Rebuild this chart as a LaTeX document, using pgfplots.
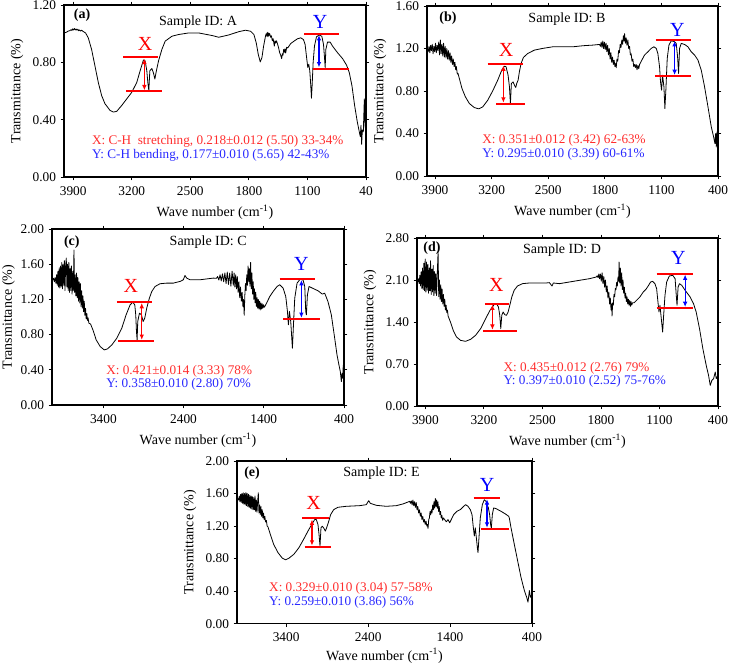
\documentclass[border=0pt]{standalone}
\usepackage{fontspec}
\setmainfont{Liberation Serif}
\usepackage{pgfplots}
\pgfplotsset{compat=1.18}
\usetikzlibrary{arrows.meta}
\definecolor{annred}{RGB}{255,45,45}
\definecolor{annblue}{RGB}{40,40,255}
\pgfplotsset{
  ftir/.style={
    scale only axis,
    x dir=reverse,
    xmin=400,
    ymin=0,
    axis line style={line width=0.9pt},
    tick align=outside,
    major tick length=2.5pt,
    tick style={black, line width=0.6pt},
    tick label style={font=\fontsize{10}{11}\selectfont},
    x tick label style={yshift=-1pt},
    label style={font=\fontsize{10.5}{12}\selectfont},
    /pgf/number format/assume math mode=true,
    y tick label style={/pgf/number format/fixed, /pgf/number format/fixed zerofill, /pgf/number format/precision=2},
    xlabel={Wave number (cm\textsuperscript{-1})},
    ylabel={Transmittance (\%)},
    xlabel style={yshift=-0.5pt},
    clip=false,
    anchor=south west,
  },
  spec/.style={black, mark=none, line width=0.6pt, line join=round},
}
\newcommand{\hl}[3]{\draw[red, line width=1.5pt] (axis cs:#1,#3) -- (axis cs:#2,#3);}
\newcommand{\arr}[4]{\draw[draw=#1, fill=#1, line width=0.9pt, {Latex[length=4pt,width=3.5pt]}-{Latex[length=4pt,width=3.5pt]}] (axis cs:#2,#3) -- (axis cs:#2,#4);}
\newcommand{\panel}[2]{\node[font=\bfseries\fontsize{10.5}{12}\selectfont] at (rel axis cs:#1) {#2};}
\newcommand{\sid}[2]{\node[font=\fontsize{10.5}{12}\selectfont] at (rel axis cs:#1) {#2};}
\newcommand{\biglab}[4]{\node[#1, font=\fontsize{15}{16}\selectfont] at (axis cs:#2,#3) {#4};}
\newcommand{\ann}[4]{\node[anchor=west, text=#1, font=\fontsize{9.9}{11}\selectfont, inner sep=0pt] at (axis cs:#2,#3) {#4};}
\begin{document}
\begin{tikzpicture}
\path[use as bounding box] (0,0) rectangle (546.75pt,498.75pt);

% (a)
\begin{axis}[ftir, at={(48pt,366pt)}, width=226.5pt, height=129pt,
  xmax=4010, ymax=1.2, ytick={0,0.4,0.8,1.2},
  xtick={3900,3200,2500,1800,1100,400}, xticklabels={3900,3200,2500,1800,1100,40}]
\addplot[spec] coordinates {
(4008,1.005)(3990,1.008)(3975,1.012)(3960,1.018)(3940,1.021)(3925,1.028)(3915,1.022)(3905,1.034)(3895,1.025)(3885,1.036)(3875,1.026)(3865,1.033)(3855,1.024)(3845,1.031)(3835,1.020)(3825,1.026)(3812,1.018)(3800,1.024)(3780,1.015)(3752,1.005)(3720,0.971)(3680,0.890)(3640,0.775)(3600,0.660)(3560,0.568)(3520,0.511)(3460,0.465)(3420,0.453)(3380,0.458)(3320,0.499)(3260,0.545)(3200,0.591)(3140,0.660)(3100,0.741)(3060,0.817)(3040,0.810)(3020,0.741)(3008,0.660)(2996,0.603)(2984,0.741)(2960,0.757)(2940,0.725)(2924,0.683)(2908,0.734)(2880,0.810)(2840,0.890)(2800,0.948)(2720,0.982)(2640,0.994)(2520,1.005)(2400,1.005)(2240,0.987)(2160,0.975)(2040,0.991)(1920,1.014)(1840,1.024)(1780,1.017)(1740,0.994)(1712,0.936)(1688,0.856)(1664,0.803)(1644,0.833)(1624,0.913)(1600,0.987)(1592,1.000)(1586,0.982)(1580,1.010)(1572,0.978)(1566,1.005)(1560,0.985)(1552,1.002)(1540,0.975)(1530,0.985)(1520,0.950)(1510,0.965)(1496,0.913)(1488,0.950)(1480,0.935)(1470,0.950)(1456,0.925)(1444,0.900)(1432,0.867)(1420,0.850)(1408,0.826)(1400,0.860)(1392,0.850)(1384,0.890)(1376,0.870)(1368,0.895)(1360,0.865)(1348,0.905)(1336,0.900)(1300,0.931)(1260,0.948)(1220,0.964)(1180,0.971)(1148,0.959)(1128,0.925)(1112,0.844)(1096,0.764)(1084,0.787)(1072,0.741)(1060,0.637)(1052,0.550)(1044,0.637)(1032,0.798)(1016,0.913)(992,0.978)(960,0.991)(928,0.982)(908,0.925)(896,0.833)(888,0.764)(880,0.890)(860,0.941)(828,0.941)(800,0.913)(740,0.867)(680,0.826)(632,0.780)(600,0.729)(568,0.637)(536,0.499)(504,0.384)(480,0.315)(468,0.281)(460,0.361)(452,0.228)(444,0.327)(432,0.315)(420,0.545)(412,0.361)(404,0.327)
};
\hl{3300}{2882}{0.835}
\hl{3268}{2841}{0.600}
\arr{red}{3049}{0.825}{0.605}
\biglab{red}{3040}{0.93}{X}
\hl{1141}{723}{0.996}
\hl{1030}{600}{0.756}
\arr{blue}{962}{0.99}{0.765}
\biglab{blue}{950}{1.08}{Y}
\panel{0.06,0.94}{(a)}
\sid{0.444,0.90}{Sample ID: A}
\ann{annred}{3678}{0.246}{X: C-H\ \ stretching, 0.218±0.012 (5.50) 33-34\%}
\ann{annblue}{3678}{0.153}{Y: C-H bending, 0.177±0.010 (5.65) 42-43\%}
\end{axis}

% (b)
\begin{axis}[ftir, at={(320.25pt,366.75pt)}, width=218.25pt, height=127.5pt,
  xmax=4000, ymax=1.6, ytick={0,0.4,0.8,1.2,1.6},
  xtick={3900,3200,2500,1800,1100,400}, xticklabels={3900,3200,2500,1800,1100,400}]
\addplot[spec] coordinates {
(3995,1.20)(3985,1.17)(3975,1.22)(3965,1.16)(3955,1.23)(3945,1.18)(3935,1.24)(3925,1.15)(3915,1.22)(3905,1.17)(3895,1.25)(3885,1.16)(3875,1.23)(3865,1.18)(3855,1.26)(3845,1.14)(3835,1.28)(3825,1.15)(3815,1.24)(3805,1.13)(3795,1.25)(3785,1.12)(3775,1.22)(3765,1.11)(3755,1.20)(3745,1.10)(3735,1.18)(3725,1.09)(3715,1.16)(3705,1.07)(3695,1.13)(3685,1.05)(3675,1.10)(3665,1.03)(3655,1.07)(3645,1.00)(3637,1.03)(3625,0.96)(3616,0.965)(3600,0.918)(3567,0.823)(3525,0.745)(3476,0.682)(3414,0.644)(3360,0.632)(3311,0.650)(3249,0.713)(3187,0.801)(3125,0.902)(3075,0.996)(3042,1.034)(3022,1.028)(2997,0.949)(2980,0.839)(2968,0.682)(2956,0.871)(2935,0.886)(2918,0.855)(2902,0.833)(2890,0.871)(2873,0.902)(2857,0.981)(2836,1.059)(2807,1.116)(2754,1.153)(2671,1.185)(2568,1.201)(2444,1.216)(2320,1.216)(2196,1.216)(2072,1.226)(1948,1.232)(1866,1.238)(1855,1.22)(1845,1.26)(1835,1.21)(1825,1.27)(1815,1.20)(1805,1.26)(1795,1.19)(1785,1.25)(1775,1.17)(1765,1.23)(1755,1.14)(1745,1.20)(1735,1.10)(1725,1.16)(1715,1.07)(1705,1.12)(1695,1.05)(1685,1.09)(1675,1.03)(1665,1.06)(1659,1.02)(1650,1.10)(1640,1.08)(1630,1.18)(1620,1.16)(1610,1.24)(1600,1.21)(1590,1.28)(1580,1.24)(1570,1.32)(1560,1.27)(1556,1.34)(1545,1.25)(1536,1.30)(1526,1.23)(1515,1.28)(1505,1.20)(1494,1.22)(1484,1.14)(1474,1.15)(1464,1.08)(1453,1.10)(1443,1.03)(1432,1.05)(1422,1.02)(1412,1.05)(1402,1.00)(1391,1.04)(1380,1.01)(1370,1.05)(1342,1.091)(1309,1.138)(1267,1.169)(1226,1.201)(1193,1.216)(1164,1.201)(1144,1.153)(1123,1.028)(1111,0.886)(1098,0.808)(1086,0.949)(1069,0.839)(1057,0.635)(1045,0.808)(1028,1.106)(1007,1.232)(978,1.273)(937,1.264)(917,1.248)(900,1.122)(888,0.965)(875,1.201)(855,1.248)(813,1.238)(772,1.216)(731,1.169)(689,1.138)(648,1.091)(607,0.996)(566,0.839)(524,0.651)(483,0.462)(454,0.368)(438,0.305)(429,0.399)(421,0.273)(413,0.415)(400,0.368)
};
\hl{3249}{2815}{1.050}
\hl{3145}{2786}{0.682}
\arr{red}{3055}{1.04}{0.69}
\biglab{red}{3022}{1.19}{X}
\hl{1172}{731}{1.279}
\hl{1176}{739}{0.943}
\arr{blue}{937}{1.27}{0.95}
\biglab{blue}{904}{1.37}{Y}
\panel{0.072,0.93}{(b)}
\sid{0.481,0.924}{Sample ID: B}
\ann{annred}{3319}{0.336}{X: 0.351±0.012 (3.42) 62-63\%}
\ann{annblue}{3319}{0.201}{Y: 0.295±0.010 (3.39) 60-61\%}
\end{axis}

% (c)
\begin{axis}[ftir, at={(39pt,195pt)}, width=219pt, height=132pt,
  xmax=4040, ymax=2.0, ytick={0,0.4,0.8,1.2,1.6,2.0},
  ylabel shift=-2.5pt,
  xtick={3400,2400,1400,400}, xticklabels={3400,2400,1400,400}]
\addplot[spec] coordinates {
(4030,1.42)(4020,1.44)(4010,1.40)(4000,1.45)(3990,1.38)(3982,1.48)(3974,1.36)(3966,1.52)(3958,1.34)(3950,1.56)(3942,1.33)(3934,1.58)(3926,1.35)(3918,1.62)(3910,1.32)(3902,1.60)(3894,1.36)(3886,1.64)(3878,1.30)(3870,1.58)(3862,1.67)(3854,1.34)(3846,1.60)(3838,1.30)(3830,1.62)(3822,1.28)(3814,1.55)(3806,1.30)(3798,1.58)(3790,1.26)(3782,1.52)(3774,1.30)(3766,1.76)(3758,1.28)(3750,1.48)(3742,1.24)(3734,1.50)(3726,1.22)(3718,1.45)(3710,1.18)(3702,1.40)(3694,1.16)(3686,1.38)(3678,1.12)(3670,1.30)(3662,1.10)(3654,1.24)(3646,1.06)(3638,1.18)(3630,1.02)(3622,1.10)(3614,0.98)(3606,1.04)(3598,0.96)(3590,0.99)(3580,0.93)(3559,0.92)(3530,0.854)(3489,0.740)(3439,0.664)(3389,0.626)(3348,0.638)(3294,0.683)(3232,0.759)(3170,0.873)(3116,1.025)(3066,1.138)(3033,1.169)(3008,1.138)(2996,1.025)(2987,0.835)(2979,0.740)(2971,0.949)(2950,1.044)(2925,1.025)(2904,0.949)(2884,0.987)(2859,1.101)(2826,1.214)(2796,1.290)(2755,1.347)(2693,1.378)(2610,1.385)(2527,1.385)(2444,1.404)(2403,1.423)(2382,1.472)(2361,1.442)(2320,1.423)(2195,1.423)(2030,1.442)(1990,1.44)(1975,1.46)(1960,1.42)(1945,1.48)(1930,1.41)(1915,1.49)(1900,1.40)(1885,1.50)(1870,1.38)(1855,1.51)(1840,1.37)(1825,1.50)(1810,1.35)(1795,1.52)(1780,1.36)(1770,1.50)(1760,1.34)(1750,1.48)(1740,1.32)(1730,1.46)(1720,1.28)(1710,1.40)(1700,1.22)(1690,1.34)(1680,1.18)(1670,1.28)(1660,1.12)(1652,1.20)(1644,1.02)(1636,1.25)(1628,1.38)(1620,1.30)(1612,1.48)(1604,1.36)(1596,1.58)(1588,1.40)(1580,1.55)(1572,1.35)(1564,1.62)(1556,1.32)(1548,1.50)(1540,1.26)(1532,1.40)(1524,1.20)(1516,1.32)(1508,1.16)(1500,1.28)(1492,1.12)(1484,1.22)(1476,1.10)(1468,1.20)(1460,1.09)(1452,1.18)(1444,1.08)(1436,1.16)(1428,1.09)(1420,1.15)(1412,1.10)(1404,1.14)(1395,1.11)(1387,1.12)(1366,1.157)(1325,1.233)(1283,1.290)(1234,1.347)(1201,1.366)(1159,1.328)(1126,1.233)(1105,1.063)(1093,0.911)(1080,1.063)(1064,0.949)(1051,0.759)(1043,0.645)(1030,0.911)(1014,1.214)(985,1.385)(943,1.434)(910,1.419)(889,1.347)(877,1.063)(869,1.025)(856,1.252)(836,1.347)(794,1.328)(724,1.298)(670,1.260)(641,1.271)(600,1.176)(558,1.025)(516,0.759)(487,0.569)(463,0.455)(446,0.380)(433,0.266)(425,0.361)(417,0.304)(409,0.455)(400,0.380)
};
\hl{3232}{2796}{1.173}
\hl{3211}{2768}{0.732}
\arr{red}{2921}{1.16}{0.74}
\biglab{red}{3058}{1.35}{X}
\hl{1201}{765}{1.434}
\hl{1159}{703}{0.975}
\arr{blue}{931}{1.42}{0.99}
\biglab{blue}{931}{1.60}{Y}
\panel{0.068,0.926}{(c)}
\sid{0.535,0.926}{Sample ID: C}
\ann{annred}{3367}{0.386}{X: 0.421±0.014 (3.33) 78\%}
\ann{annblue}{3367}{0.239}{Y: 0.358±0.010 (2.80) 70\%}
\end{axis}

% (d)
\begin{axis}[ftir, at={(312.75pt,194.25pt)}, width=225.75pt, height=126pt,
  xmax=4000, ymax=2.8, ytick={0,0.7,1.4,2.1,2.8},
  xtick={3900,3200,2500,1800,1100,400}, xticklabels={3900,3200,2500,1800,1100,400}]
\addplot[spec] coordinates {
(4000,2.095)(3990,2.07)(3982,2.12)(3974,2.04)(3966,2.18)(3958,2.00)(3950,2.24)(3942,1.96)(3934,2.30)(3926,1.94)(3918,2.38)(3910,1.92)(3902,2.45)(3894,1.90)(3886,2.40)(3878,1.93)(3870,2.36)(3862,1.88)(3854,2.30)(3846,1.92)(3838,2.42)(3830,1.86)(3822,2.28)(3814,1.90)(3806,2.34)(3798,1.84)(3790,2.24)(3782,1.88)(3774,2.20)(3766,1.84)(3758,2.18)(3748,2.57)(3740,1.82)(3732,2.10)(3724,1.78)(3716,2.02)(3708,1.74)(3700,1.95)(3692,1.70)(3684,1.86)(3676,1.66)(3668,1.78)(3660,1.60)(3652,1.68)(3644,1.56)(3636,1.60)(3628,1.50)(3600,1.400)(3567,1.261)(3527,1.150)(3479,1.094)(3419,1.078)(3359,1.111)(3299,1.178)(3239,1.289)(3179,1.456)(3127,1.594)(3078,1.689)(3050,1.706)(3026,1.650)(3010,1.511)(2998,1.289)(2986,1.511)(2970,1.567)(2950,1.522)(2930,1.511)(2910,1.567)(2890,1.678)(2866,1.817)(2838,1.928)(2798,2.000)(2738,2.039)(2657,2.050)(2537,2.050)(2457,2.050)(2417,2.056)(2385,2.000)(2369,2.050)(2297,2.039)(2176,2.067)(2056,2.095)(1936,2.122)(1856,2.150)(1845,2.17)(1835,2.14)(1825,2.20)(1816,2.12)(1806,2.20)(1796,2.08)(1786,2.22)(1776,2.04)(1766,2.16)(1756,1.98)(1746,2.10)(1736,1.90)(1726,2.00)(1716,1.80)(1706,1.90)(1696,1.70)(1688,1.80)(1679,1.60)(1672,1.70)(1667,1.50)(1660,1.72)(1652,1.68)(1644,1.86)(1636,1.82)(1628,1.96)(1620,1.94)(1612,2.06)(1604,2.00)(1596,2.15)(1588,2.08)(1583,2.40)(1576,2.05)(1568,2.30)(1560,2.00)(1552,2.22)(1544,1.94)(1536,2.10)(1528,1.88)(1520,1.98)(1512,1.80)(1504,1.88)(1496,1.74)(1488,1.82)(1480,1.70)(1472,1.78)(1464,1.68)(1456,1.76)(1448,1.66)(1440,1.74)(1432,1.68)(1422,1.72)(1402,1.722)(1374,1.761)(1334,1.817)(1294,1.900)(1262,1.944)(1230,2.011)(1206,2.067)(1182,2.078)(1154,2.039)(1134,1.956)(1118,1.733)(1106,1.567)(1094,1.678)(1082,1.511)(1070,1.344)(1062,1.233)(1050,1.511)(1034,1.844)(1014,2.067)(982,2.167)(941,2.178)(913,2.122)(902,1.900)(890,1.678)(877,1.983)(861,2.039)(833,2.011)(793,1.928)(733,1.817)(693,1.706)(661,1.567)(621,1.289)(581,0.956)(541,0.678)(513,0.511)(493,0.344)(473,0.428)(453,0.456)(433,0.567)(421,0.456)(400,0.511)
};
\hl{3187}{2898}{1.706}
\hl{3211}{2806}{1.250}
\arr{red}{3098}{1.69}{1.27}
\biglab{red}{3050}{2.02}{X}
\hl{1134}{701}{2.206}
\hl{1134}{701}{1.633}
\arr{blue}{793}{2.19}{1.65}
\biglab{blue}{873}{2.46}{Y}
\panel{0.05,0.94}{(d)}
\sid{0.482,0.929}{Sample ID: D}
\ann{annred}{2967}{0.622}{X: 0.435±0.012 (2.76) 79\%}
\ann{annblue}{2967}{0.417}{Y: 0.397±0.010 (2.52) 75-76\%}
\end{axis}

% (e)
\begin{axis}[ftir, at={(177.75pt,31pt)}, width=221.25pt, height=122pt,
  xmax=4000, ymax=2.0, ytick={0,0.4,0.8,1.2,1.6,2.0},
  xlabel style={yshift=2.5pt},
  xtick={3400,2400,1400,400}, xticklabels={3400,2400,1400,400}]
\addplot[spec] coordinates {
(4000,1.524)(3990,1.54)(3980,1.52)(3972,1.57)(3964,1.50)(3956,1.59)(3948,1.49)(3940,1.60)(3932,1.48)(3924,1.61)(3916,1.47)(3908,1.60)(3900,1.46)(3892,1.61)(3884,1.45)(3876,1.60)(3868,1.44)(3860,1.59)(3852,1.43)(3844,1.58)(3836,1.42)(3828,1.57)(3820,1.41)(3812,1.56)(3804,1.40)(3796,1.55)(3788,1.40)(3780,1.57)(3772,1.38)(3764,1.52)(3756,1.37)(3748,1.50)(3740,1.61)(3732,1.36)(3724,1.46)(3716,1.34)(3708,1.44)(3700,1.32)(3692,1.40)(3684,1.30)(3676,1.36)(3668,1.28)(3660,1.32)(3652,1.25)(3642,1.27)(3632,1.20)(3622,1.19)(3593,1.098)(3553,0.976)(3500,0.874)(3447,0.805)(3406,0.785)(3366,0.805)(3305,0.854)(3244,0.935)(3187,1.037)(3134,1.138)(3093,1.211)(3052,1.280)(3032,1.280)(3012,1.220)(2999,1.098)(2987,0.955)(2975,1.179)(2959,1.199)(2939,1.171)(2922,1.138)(2906,1.179)(2886,1.240)(2857,1.341)(2820,1.402)(2768,1.431)(2666,1.443)(2503,1.451)(2422,1.463)(2393,1.512)(2373,1.480)(2300,1.455)(2178,1.443)(2056,1.451)(1974,1.472)(1893,1.504)(1883,1.48)(1873,1.51)(1863,1.46)(1853,1.52)(1843,1.45)(1833,1.50)(1823,1.43)(1813,1.49)(1803,1.40)(1793,1.44)(1783,1.36)(1773,1.40)(1763,1.32)(1753,1.36)(1743,1.28)(1733,1.32)(1723,1.25)(1713,1.28)(1703,1.22)(1693,1.26)(1683,1.20)(1675,1.22)(1669,1.17)(1660,1.28)(1652,1.30)(1644,1.38)(1636,1.34)(1628,1.40)(1620,1.36)(1612,1.46)(1604,1.40)(1596,1.50)(1588,1.42)(1580,1.54)(1572,1.44)(1564,1.52)(1556,1.42)(1548,1.50)(1540,1.38)(1532,1.44)(1524,1.34)(1516,1.38)(1508,1.30)(1500,1.33)(1490,1.27)(1480,1.30)(1466,1.28)(1445,1.252)(1425,1.280)(1405,1.240)(1385,1.280)(1356,1.341)(1315,1.382)(1275,1.402)(1234,1.443)(1210,1.463)(1181,1.443)(1153,1.402)(1132,1.341)(1120,1.220)(1104,1.077)(1092,1.179)(1079,1.057)(1067,0.935)(1059,0.874)(1047,1.057)(1031,1.301)(1006,1.463)(982,1.524)(961,1.504)(932,1.423)(917,1.341)(904,1.211)(896,1.179)(884,1.341)(868,1.423)(840,1.415)(779,1.382)(726,1.350)(685,1.321)(677,1.301)(656,1.179)(616,0.976)(575,0.772)(534,0.569)(493,0.407)(465,0.325)(449,0.264)(432,0.407)(420,0.325)(400,0.366)
};
\hl{3203}{2882}{1.297}
\hl{3174}{2849}{0.947}
\arr{red}{3085}{1.28}{0.96}
\biglab{red}{3065}{1.48}{X}
\hl{1112}{795}{1.549}
\hl{1018}{685}{1.163}
\arr{blue}{949}{1.53}{1.18}
\biglab{blue}{949}{1.71}{Y}
\panel{0.051,0.927}{(e)}
\sid{0.49,0.927}{Sample ID: E}
\ann{annred}{3610}{0.439}{X: 0.329±0.010 (3.04) 57-58\%}
\ann{annblue}{3610}{0.264}{Y: 0.259±0.010 (3.86) 56\%}
\end{axis}
\end{tikzpicture}
\end{document}
